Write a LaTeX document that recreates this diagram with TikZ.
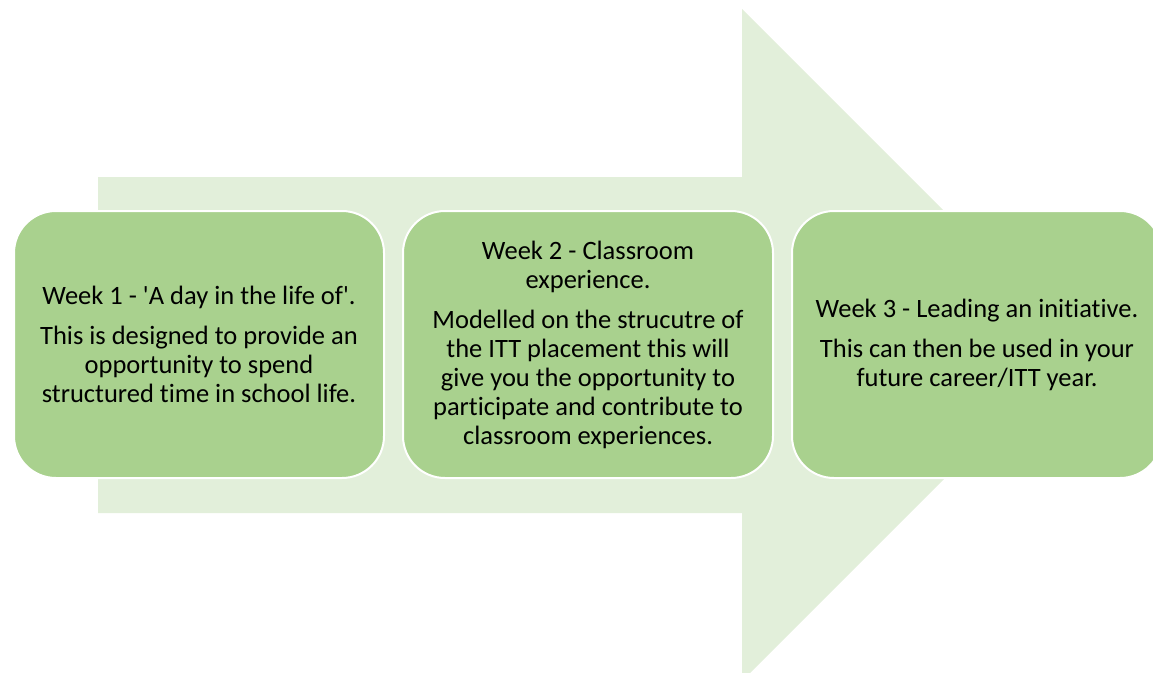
\documentclass[tikz,border=0pt]{standalone}
\usepackage{fontspec}
\setmainfont{Carlito}[Ligatures={NoCommon}]
\definecolor{arrowgreen}{HTML}{E2EFDA}
\definecolor{boxgreen}{HTML}{A9D18E}
\begin{document}
\begin{tikzpicture}[x=1pt,y=-1pt,
  weekbox/.style={draw=white, line width=2pt, fill=boxgreen, rounded corners=42pt,
    minimum width=370pt, minimum height=267pt, inner sep=0pt,
    align=center, text=black, font=\fontsize{26.5}{29}\selectfont}]
\useasboundingbox (0,0) rectangle (1153,672);
\clip (0,0) rectangle (1153,672);
\fill[arrowgreen] (98,177) -- (742,177) -- (742,9) -- (1078,345) -- (742,681) -- (742,513) -- (98,513) -- cycle;
\node[weekbox] (w1) at (199,344.5) {Week 1 - \textquotesingle A day in the life of\textquotesingle.\\[11pt]This is designed to provide an\\opportunity to spend\\structured time in school life.};
\node[weekbox] (w2) at (588,344.5) {Week 2 - Classroom\\experience.\\[11pt]Modelled on the strucutre of\\the ITT placement this will\\give you the opportunity to\\participate and contribute to\\classroom experiences.};
\node[weekbox] (w3) at (977,344.5) {Week 3 - Leading an initiative.\\[11pt]This can then be used in your\\future career/ITT year.};
\end{tikzpicture}
\end{document}
